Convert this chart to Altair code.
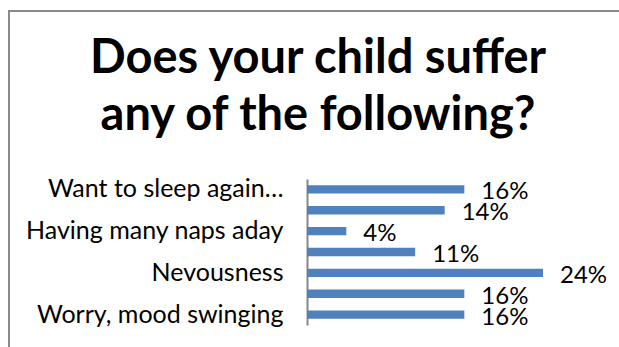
import json
import altair as alt
import pandas as pd

categories = [
    "Want to sleep again…",
    "Symptom 2",
    "Having many naps aday",
    "Symptom 4",
    "Nevousness",
    "Symptom 6",
    "Worry, mood swinging",
]
values = [0.16, 0.14, 0.04, 0.11, 0.24, 0.16, 0.16]
value_labels = ["16%", "14%", "4%", "11%", "24%", "16%", "16%"]
shown_labels = [categories[0], categories[2], categories[4], categories[6]]
title_lines = ["Does your child suffer", "any of the following?"]

df = pd.DataFrame({"category": categories, "value": values, "label": value_labels})

FONT = "Lato"
BAR = "#4F81BD"
GREY = "#868686"

label_expr = "indexof(%s, datum.value) >= 0 ? datum.label : ''" % json.dumps(shown_labels, ensure_ascii=False)

y_enc = alt.Y(
    "category:N",
    sort=categories,
    title=None,
    scale=alt.Scale(paddingInner=0.6, paddingOuter=0.3),
    axis=alt.Axis(
        domainColor=GREY,
        domainWidth=2,
        ticks=False,
        grid=False,
        labelFont=FONT,
        labelFontSize=25,
        labelColor="black",
        labelPadding=24,
        labelLimit=0,
        labelExpr=label_expr,
    ),
)
x_enc = alt.X("value:Q", axis=None, scale=alt.Scale(domain=[0, 0.3], nice=False))

base = alt.Chart(df)
bars = base.mark_bar(color=BAR).encode(x=x_enc, y=y_enc)
texts = base.mark_text(
    align="left", baseline="middle", dx=17, dy=3, font=FONT, fontSize=24, color="black"
).encode(x=x_enc, y=y_enc, text="label:N")

border = alt.Chart(pd.DataFrame({"a": [0]})).mark_rect(
    fill="transparent", stroke="#8a8a8a", strokeWidth=2
).encode(
    x=alt.value(-298), x2=alt.value(340), y=alt.value(-168), y2=alt.value(220)
)

title = alt.Chart(pd.DataFrame({"t": ["\n".join(title_lines)]})).mark_text(
    font=FONT,
    fontSize=47,
    fontWeight="bold",
    color="black",
    align="center",
    baseline="alphabetic",
    lineBreak="\n",
    lineHeight=57,
).encode(text="t:N", x=alt.value(11), y=alt.value(-106))

chart = alt.layer(border, bars, texts, title).properties(
    width=295,
    height=146,
    autosize=alt.AutoSizeParams(type="none"),
    padding={"left": 307, "top": 179, "right": 17, "bottom": 22},
).configure_view(strokeOpacity=0)

chart.save("out.html", embed_options={"renderer": "svg", "actions": False})
